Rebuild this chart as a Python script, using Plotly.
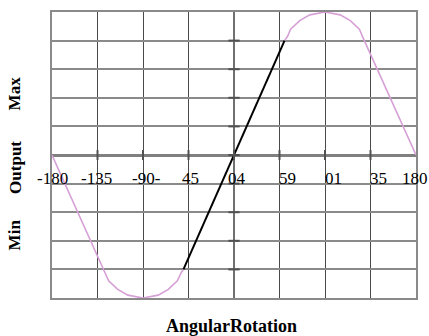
import plotly.graph_objects as go

# ---- data ----
pink_x_left = [-180, -128, -124, -115, -105, -90, -75, -65, -56, -52, -50]
pink_y_left = [0, -0.82, -0.88, -0.94, -0.98, -1.0, -0.98, -0.94, -0.88, -0.82, -0.80]
pink_x_right = [50, 53, 56, 65, 75, 90, 105, 115, 124, 127, 180]
pink_y_right = [0.80, 0.83, 0.88, 0.94, 0.98, 1.0, 0.98, 0.94, 0.88, 0.83, 0]
black_x = [-50, 50]
black_y = [-0.8, 0.8]

tick_vals = [-180, -135, -90, -45, 0, 45, 90, 135, 180]
tick_text = ["-180", "-135", "-90-", "45", "04", "59", "01", "35", "180"]
ytick_vals = [-1, -0.8, -0.6, -0.4, -0.2, 0, 0.2, 0.4, 0.6, 0.8, 1]

x_title = "AngularRotation"
y_labels = ["Min", "Output", "Max"]

# ---- figure ----
pink = "#D6A0D6"
fig = go.Figure()
fig.add_trace(go.Scatter(x=pink_x_left, y=pink_y_left, mode="lines",
                         line=dict(color=pink, width=1.6), showlegend=False))
fig.add_trace(go.Scatter(x=pink_x_right, y=pink_y_right, mode="lines",
                         line=dict(color=pink, width=1.6), showlegend=False))
fig.add_trace(go.Scatter(x=black_x, y=black_y, mode="lines",
                         line=dict(color="black", width=2), showlegend=False))

# small tick marks on the crossing axes
fig.add_trace(go.Scatter(x=tick_vals[1:-1], y=[0] * (len(tick_vals) - 2), mode="markers",
                         marker=dict(symbol="line-ns", size=7,
                                     line=dict(color="#505050", width=2)),
                         showlegend=False, hoverinfo="skip"))
fig.add_trace(go.Scatter(x=[0] * (len(ytick_vals) - 2), y=ytick_vals[1:-1], mode="markers",
                         marker=dict(symbol="line-ew", size=8,
                                     line=dict(color="#505050", width=2)),
                         showlegend=False, hoverinfo="skip"))

serif = "Liberation Serif, Times New Roman, serif"
label_shift = [0, -0.5, 3, 2, 3, 7.5, 8, 8, -0.7]
annotations = []
for v, t, s in zip(tick_vals, tick_text, label_shift):
    annotations.append(dict(x=v + s, y=-0.165, xref="x", yref="y", text=t,
                            showarrow=False, xanchor="center", yanchor="middle",
                            font=dict(family=serif, size=17, color="black")))
for t, py in zip(y_labels, [0.222, 0.458, 0.715]):
    annotations.append(dict(x=-0.102, y=py, xref="paper", yref="paper",
                            text="<b>%s</b>" % t, textangle=-90, showarrow=False,
                            xanchor="center", yanchor="middle",
                            font=dict(family=serif, size=17, color="black")))
annotations.append(dict(x=0.494, y=-0.097, xref="paper", yref="paper",
                        text="<b>%s</b>" % x_title, showarrow=False,
                        xanchor="center", yanchor="middle",
                        font=dict(family=serif, size=18, color="black")))

fig.update_layout(
    width=429, height=336, autosize=False,
    margin=dict(l=52, r=13, t=10, b=38, pad=0),
    plot_bgcolor="white", paper_bgcolor="white",
    annotations=annotations,
    xaxis=dict(range=[-180, 180], tickvals=tick_vals, showticklabels=False,
               showgrid=True, gridcolor="#4a4a4a", gridwidth=1,
               zeroline=True, zerolinecolor="#707070", zerolinewidth=2,
               showline=True, mirror=True, linecolor="#8a8a8a", linewidth=2,
               ticks=""),
    yaxis=dict(range=[-1, 1], tickvals=ytick_vals, showticklabels=False,
               showgrid=True, gridcolor="#8a8a8a", gridwidth=2,
               zeroline=True, zerolinecolor="#808080", zerolinewidth=3,
               showline=True, mirror=True, linecolor="#8a8a8a", linewidth=2,
               ticks=""),
)

fig.write_html("out.html", config={"displayModeBar": False},
               post_script="document.body.style.margin='0';")
